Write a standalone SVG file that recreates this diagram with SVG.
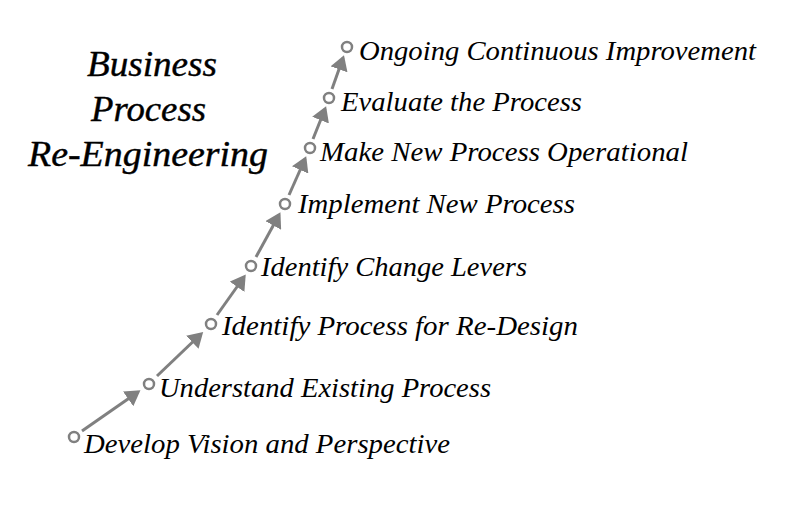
<svg xmlns="http://www.w3.org/2000/svg" width="800" height="511" viewBox="0 0 800 511">
<style>
.lbl{font-family:"Liberation Serif","Times New Roman",serif;font-style:italic;font-size:27px;fill:#000}
.ttl{font-family:"Liberation Serif","Times New Roman",serif;font-style:italic;font-size:36px;fill:#000;stroke:#000;stroke-width:0.4}
.dot{fill:#fff;stroke:#808080;stroke-width:2.5}
.arr{stroke:#808080;stroke-width:3;fill:none;marker-end:url(#ah)}
</style>
<defs>
<marker id="ah" markerWidth="6" markerHeight="6" refX="4" refY="3" orient="auto" markerUnits="strokeWidth">
<path d="M0,0 L5,3 L0,6 Z" fill="#808080"/>
</marker>
</defs>
<rect width="800" height="511" fill="#fff"/>
<g id="title">
<text class="ttl" x="87" y="76" textLength="130" lengthAdjust="spacingAndGlyphs">Business</text>
<text class="ttl" x="91" y="121" textLength="115" lengthAdjust="spacingAndGlyphs">Process</text>
<text class="ttl" x="28" y="166" textLength="240" lengthAdjust="spacingAndGlyphs">Re-Engineering</text>
</g>
<g id="connectors">
<line class="arr" x1="82" y1="431" x2="138" y2="392"/>
<line class="arr" x1="157" y1="376" x2="201" y2="334"/>
<line class="arr" x1="217" y1="315" x2="244" y2="277"/>
<line class="arr" x1="256" y1="257" x2="279" y2="215"/>
<line class="arr" x1="289" y1="195" x2="305" y2="159"/>
<line class="arr" x1="313" y1="139" x2="325" y2="109"/>
<line class="arr" x1="332" y1="89" x2="343" y2="58"/>
</g>
<g id="n1"><circle class="dot" cx="74" cy="437" r="5"/><text class="lbl" x="84" y="453" textLength="366" lengthAdjust="spacingAndGlyphs">Develop Vision and Perspective</text></g>
<g id="n2"><circle class="dot" cx="149" cy="384" r="5"/><text class="lbl" x="159" y="397" textLength="332" lengthAdjust="spacingAndGlyphs">Understand Existing Process</text></g>
<g id="n3"><circle class="dot" cx="211" cy="324" r="5"/><text class="lbl" x="222" y="335" textLength="356" lengthAdjust="spacingAndGlyphs">Identify Process for Re-Design</text></g>
<g id="n4"><circle class="dot" cx="251" cy="266" r="5"/><text class="lbl" x="261" y="276" textLength="266" lengthAdjust="spacingAndGlyphs">Identify Change Levers</text></g>
<g id="n5"><circle class="dot" cx="285" cy="204" r="5"/><text class="lbl" x="298" y="213" textLength="277" lengthAdjust="spacingAndGlyphs">Implement New Process</text></g>
<g id="n6"><circle class="dot" cx="310" cy="148" r="5"/><text class="lbl" x="320" y="161" textLength="368" lengthAdjust="spacingAndGlyphs">Make New Process Operational</text></g>
<g id="n7"><circle class="dot" cx="329" cy="98" r="5"/><text class="lbl" x="341" y="111" textLength="241" lengthAdjust="spacingAndGlyphs">Evaluate the Process</text></g>
<g id="n8"><circle class="dot" cx="347" cy="47" r="5"/><text class="lbl" x="359" y="60" textLength="397" lengthAdjust="spacingAndGlyphs">Ongoing Continuous Improvement</text></g>
</svg>
